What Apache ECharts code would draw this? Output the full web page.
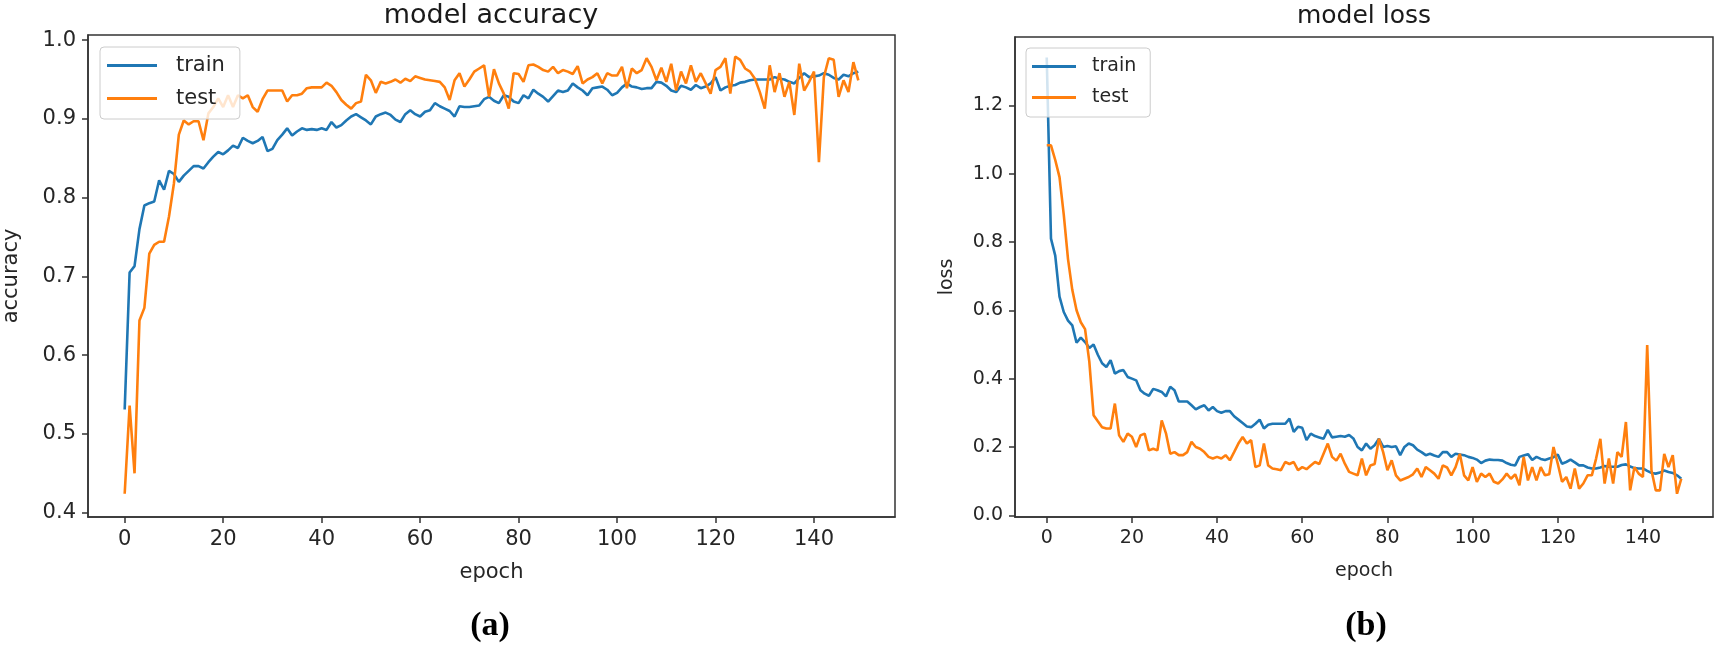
<!DOCTYPE html>
<html>
<head>
<meta charset="utf-8">
<script src="https://cdn.jsdelivr.net/npm/echarts@6/dist/echarts.min.js"></script>
<style>html,body{margin:0;padding:0;background:#fff}#c{width:1716px;height:646px}</style>
</head>
<body>
<div id="c"></div>
<script>
const seriesNames = ['train', 'test'];
const xTicks = [0, 20, 40, 60, 80, 100, 120, 140];
const accTicks = [0.4, 0.5, 0.6, 0.7, 0.8, 0.9, 1.0];
const lossTicks = [0.0, 0.2, 0.4, 0.6, 0.8, 1.0, 1.2];

const trainAcc = [
0.531,0.705,0.713,0.760,0.790,0.793,0.795,0.822,0.810,0.834,
0.830,0.820,0.828,0.834,0.840,0.840,0.837,0.845,0.852,0.858,
0.855,0.860,0.866,0.863,0.876,0.872,0.869,0.872,0.877,0.859,
0.862,0.873,0.880,0.888,0.879,0.884,0.888,0.886,0.887,0.886,
0.888,0.886,0.896,0.889,0.892,0.898,0.903,0.906,0.902,0.898,
0.893,0.903,0.906,0.908,0.905,0.899,0.896,0.906,0.911,0.906,
0.903,0.909,0.911,0.920,0.916,0.913,0.910,0.903,0.916,0.915,
0.915,0.916,0.917,0.925,0.928,0.923,0.920,0.930,0.928,0.922,
0.920,0.930,0.926,0.937,0.932,0.928,0.922,0.929,0.936,0.934,
0.936,0.945,0.940,0.936,0.930,0.939,0.940,0.941,0.937,0.930,
0.933,0.940,0.945,0.941,0.940,0.938,0.939,0.939,0.947,0.946,
0.942,0.936,0.934,0.942,0.940,0.937,0.943,0.939,0.941,0.945,
0.953,0.936,0.940,0.942,0.943,0.946,0.947,0.949,0.950,0.950,
0.950,0.950,0.953,0.951,0.950,0.947,0.945,0.952,0.958,0.953,
0.954,0.955,0.958,0.956,0.952,0.950,0.956,0.954,0.958,0.960
];
const testAcc = [
0.424,0.536,0.450,0.644,0.660,0.729,0.740,0.744,0.744,0.776,
0.818,0.880,0.898,0.893,0.897,0.897,0.873,0.907,0.915,0.926,
0.915,0.930,0.915,0.930,0.926,0.930,0.915,0.909,0.925,0.936,
0.936,0.936,0.936,0.922,0.930,0.930,0.932,0.939,0.940,0.940,
0.940,0.946,0.942,0.934,0.924,0.918,0.913,0.920,0.922,0.956,
0.949,0.933,0.947,0.945,0.947,0.950,0.946,0.951,0.948,0.954,
0.952,0.950,0.949,0.948,0.947,0.940,0.924,0.949,0.958,0.941,
0.950,0.960,0.964,0.968,0.928,0.963,0.945,0.932,0.913,0.958,
0.957,0.947,0.968,0.969,0.966,0.962,0.960,0.966,0.958,0.962,
0.960,0.957,0.967,0.945,0.950,0.953,0.958,0.945,0.958,0.955,
0.955,0.966,0.939,0.964,0.958,0.962,0.977,0.966,0.949,0.965,
0.947,0.970,0.936,0.960,0.945,0.968,0.947,0.958,0.945,0.932,
0.962,0.966,0.977,0.932,0.979,0.975,0.964,0.960,0.951,0.934,
0.913,0.968,0.934,0.958,0.928,0.947,0.905,0.970,0.936,0.947,
0.960,0.845,0.953,0.977,0.975,0.928,0.949,0.934,0.972,0.949
];
const trainLoss = [
1.340,0.810,0.760,0.640,0.595,0.570,0.556,0.505,0.520,0.507,
0.490,0.500,0.470,0.445,0.434,0.454,0.415,0.422,0.425,0.405,
0.400,0.395,0.366,0.356,0.350,0.370,0.366,0.361,0.348,0.376,
0.366,0.333,0.333,0.333,0.322,0.310,0.317,0.322,0.307,0.317,
0.305,0.300,0.305,0.305,0.290,0.280,0.270,0.260,0.258,0.268,
0.280,0.254,0.265,0.268,0.268,0.268,0.268,0.283,0.244,0.259,
0.256,0.220,0.239,0.232,0.228,0.224,0.250,0.228,0.230,0.232,
0.230,0.235,0.225,0.200,0.190,0.210,0.195,0.205,0.224,0.200,
0.203,0.200,0.202,0.176,0.200,0.210,0.205,0.192,0.185,0.176,
0.180,0.175,0.171,0.185,0.185,0.171,0.180,0.178,0.176,0.171,
0.168,0.163,0.153,0.160,0.163,0.162,0.162,0.160,0.153,0.148,
0.146,0.171,0.175,0.179,0.162,0.171,0.165,0.162,0.166,0.170,
0.178,0.151,0.156,0.163,0.155,0.146,0.146,0.140,0.137,0.137,
0.140,0.144,0.142,0.142,0.142,0.147,0.149,0.143,0.138,0.137,
0.137,0.130,0.124,0.122,0.125,0.131,0.127,0.124,0.117,0.107
];
const testLoss = [
1.083,1.083,1.040,0.990,0.880,0.750,0.660,0.600,0.565,0.545,
0.450,0.293,0.275,0.258,0.254,0.254,0.327,0.234,0.215,0.239,
0.230,0.200,0.234,0.239,0.190,0.195,0.190,0.278,0.240,0.180,
0.185,0.176,0.176,0.185,0.215,0.200,0.195,0.185,0.171,0.166,
0.171,0.166,0.176,0.161,0.185,0.210,0.229,0.210,0.220,0.141,
0.146,0.210,0.146,0.137,0.135,0.132,0.156,0.150,0.156,0.132,
0.141,0.135,0.146,0.156,0.150,0.180,0.210,0.171,0.160,0.180,
0.151,0.127,0.122,0.117,0.166,0.117,0.146,0.150,0.224,0.185,
0.132,0.161,0.117,0.102,0.107,0.112,0.120,0.137,0.112,0.141,
0.132,0.122,0.107,0.146,0.140,0.117,0.141,0.180,0.117,0.102,
0.141,0.098,0.122,0.112,0.122,0.098,0.093,0.105,0.122,0.107,
0.120,0.088,0.171,0.102,0.141,0.102,0.141,0.117,0.120,0.200,
0.151,0.098,0.112,0.078,0.137,0.078,0.093,0.117,0.117,0.166,
0.224,0.093,0.166,0.093,0.185,0.171,0.273,0.073,0.141,0.122,
0.112,0.498,0.132,0.073,0.073,0.180,0.141,0.176,0.063,0.107
];

const BLUE = '#1f77b4', ORANGE = '#ff7f0e';
const pairs = arr => arr.map((v, i) => [i, v]);
const FONT = 'DejaVu Sans';
const INK = '#262626';

function xAxisCfg(gridIndex, size, min, max) {
  return {
    type: 'value', gridIndex, min, max,
    name: 'epoch', nameLocation: 'middle', nameGap: 45,
    nameTextStyle: { fontFamily: FONT, fontSize: size, color: INK },
    axisLine: { show: true, onZero: false, lineStyle: { color: '#333', width: 1.5 } },
    axisTick: { show: true, length: 6, lineStyle: { color: '#333', width: 1.5 }, customValues: xTicks },
    axisLabel: { fontFamily: FONT, fontSize: size, color: INK, margin: 12, customValues: xTicks },
    splitLine: { show: false }
  };
}
function yAxisCfg(gridIndex, size, min, max, ticks, name, gap) {
  return {
    type: 'value', gridIndex, min, max,
    name, nameLocation: 'middle', nameGap: gap,
    nameTextStyle: { fontFamily: FONT, fontSize: size, color: INK },
    axisLine: { show: true, onZero: false, lineStyle: { color: '#333', width: 1.5 } },
    axisTick: { show: true, length: 6, lineStyle: { color: '#333', width: 1.5 }, customValues: ticks },
    axisLabel: { fontFamily: FONT, fontSize: size, color: INK, margin: 12,
      customValues: ticks, formatter: v => Number(v).toFixed(1) },
    splitLine: { show: false }
  };
}
function legendCfg(left, top, size, iw, pad, textPad) {
  return {
    orient: 'vertical', left, top, data: seriesNames,
    icon: 'rect', itemWidth: iw, itemHeight: 3, itemGap: 12,
    padding: pad,
    backgroundColor: 'rgba(255,255,255,0.8)', borderColor: '#cccccc', borderWidth: 1, borderRadius: 4,
    textStyle: { fontFamily: FONT, fontSize: size, color: INK, padding: [0, 0, 0, textPad] }
  };
}
function lineSeries(name, data, color, xi, yi) {
  return { type: 'line', name, data: pairs(data), xAxisIndex: xi, yAxisIndex: yi,
    showSymbol: false, symbol: 'none', lineStyle: { color, width: 2.6 }, itemStyle: { color },
    animation: false };
}

const chart = echarts.init(document.getElementById('c'), null, { renderer: 'canvas' });
chart.setOption({
  animation: false,
  backgroundColor: '#fff',
  grid: [
    { left: 87, top: 35, width: 808, height: 482, show: true, borderColor: '#333', borderWidth: 1.5, backgroundColor: 'transparent' },
    { left: 1015, top: 37, width: 698, height: 480, show: true, borderColor: '#333', borderWidth: 1.5, backgroundColor: 'transparent' }
  ],
  xAxis: [ xAxisCfg(0, 21, -7.45, 156.45), xAxisCfg(1, 19, -7.45, 156.45) ],
  yAxis: [
    yAxisCfg(0, 21, 0.3945, 1.0065, accTicks, 'accuracy', 66),
    yAxisCfg(1, 19, -0.005, 1.40, lossTicks, 'loss', 58)
  ],
  legend: [
    legendCfg(100, 47, 21, 50, [8, 15, 10, 7], 14),
    legendCfg(1026, 48, 19, 44, [9, 14, 10, 6], 11)
  ],
  series: [
    lineSeries(seriesNames[0], trainAcc, BLUE, 0, 0),
    lineSeries(seriesNames[1], testAcc, ORANGE, 0, 0),
    lineSeries(seriesNames[0], trainLoss, BLUE, 1, 1),
    lineSeries(seriesNames[1], testLoss, ORANGE, 1, 1)
  ],
  graphic: [
    { type: 'text', x: 491, y: 16, style: { text: 'model accuracy', fontFamily: FONT, fontSize: 27, fill: '#1a1a1a', textAlign: 'center', textVerticalAlign: 'middle' } },
    { type: 'text', x: 1364, y: 16, style: { text: 'model loss', fontFamily: FONT, fontSize: 25, fill: '#1a1a1a', textAlign: 'center', textVerticalAlign: 'middle' } },
    { type: 'text', x: 490, y: 626, style: { text: '(a)', fontFamily: 'Liberation Serif', fontWeight: 'bold', fontSize: 34, fill: '#000', textAlign: 'center', textVerticalAlign: 'middle' } },
    { type: 'text', x: 1366, y: 626, style: { text: '(b)', fontFamily: 'Liberation Serif', fontWeight: 'bold', fontSize: 34, fill: '#000', textAlign: 'center', textVerticalAlign: 'middle' } }
  ]
});
</script>
</body>
</html>
